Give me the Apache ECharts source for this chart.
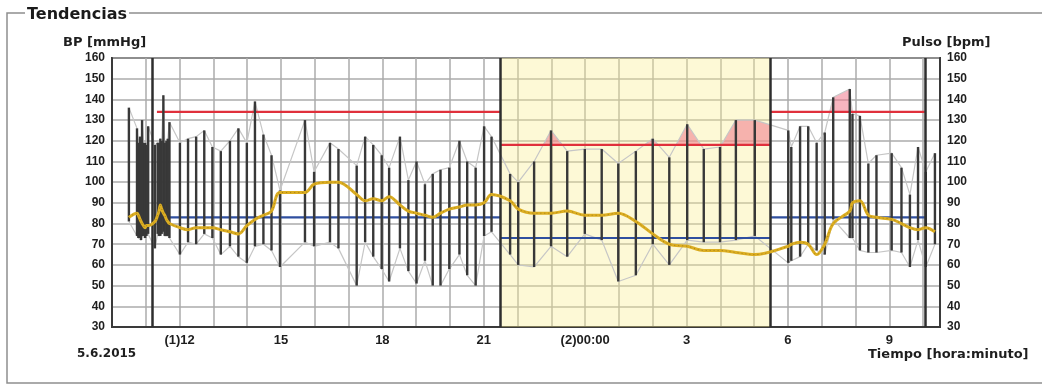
<!DOCTYPE html>
<html>
<head>
<meta charset="utf-8">
<title>Tendencias</title>
<script src="https://cdn.jsdelivr.net/npm/echarts@6/dist/echarts.min.js"></script>
<style>
  html, body { margin: 0; padding: 0; background: #ffffff; }
  #main { width: 1042px; height: 385px; }
</style>
</head>
<body>
<div id="main"></div>
<script>
// hours after 10:00 on 5.6.2015
var tHours = [0.50, 0.74, 0.78, 0.83, 0.86, 0.89, 0.93, 0.98, 1.02, 1.07,
  1.27, 1.35, 1.39, 1.43, 1.47, 1.52, 1.56, 1.61, 1.65, 1.70,
  2.01, 2.25, 2.49, 2.73, 2.97, 3.22, 3.49, 3.74, 3.99, 4.23, 4.48, 4.72, 4.97,
  5.71, 5.98, 6.45, 6.70, 7.24, 7.49, 7.73, 7.98, 8.20, 8.52, 8.77, 9.01, 9.26,
  9.49, 9.72, 9.98, 10.28, 10.51, 10.76, 11.01, 11.23,
  11.78, 12.02, 12.49, 12.99, 13.47, 13.99, 14.49, 14.98, 15.50, 16.00, 16.49,
  17.02, 17.51, 17.99, 18.46, 19.02,
  20.01, 20.10, 20.36, 20.60, 20.85, 21.09, 21.34, 21.83, 21.91, 22.13, 22.38,
  22.62, 23.07, 23.36, 23.61, 23.85, 24.08, 24.35];
var sysBP = [136, 126, 119, 122, 118, 130, 119, 119, 118, 127,
  118, 119, 119, 121, 120, 142, 119, 120, 121, 129,
  119, 121, 122, 125, 117, 115, 120, 126, 119, 139, 123, 113, 96,
  130, 105, 119, 116, 108, 122, 118, 113, 107, 122, 101, 110, 99,
  104, 106, 107, 120, 110, 107, 127, 122,
  104, 100, 110, 125, 115, 116, 116, 109, 115, 121, 112,
  128, 116, 117, 130, 130,
  125, 117, 127, 127, 119, 124, 141, 145, 133, 132, 109,
  113, 114, 107, 94, 117, 105, 114];
var diaBP = [81, 74, 73, 73, 72, 74, 74, 73, 74, 75,
  68, 75, 74, 74, 75, 76, 74, 74, 74, 73,
  65, 71, 70, 75, 73, 65, 69, 64, 61, 69, 70, 67, 59,
  71, 69, 71, 68, 50, 71, 64, 58, 52, 68, 57, 51, 62,
  50, 50, 58, 65, 55, 50, 74, 76,
  65, 60, 59, 69, 64, 75, 72, 52, 55, 70, 60,
  72, 71, 71, 72, 74,
  61, 62, 64, 70, 67, 65, 82, 73, 73, 67, 66,
  66, 67, 66, 59, 72, 59, 70];
var pulse = [83, 85, 84, 82, 81, 80, 79, 78, 79, 79,
  81, 84, 86, 89, 87, 85, 84, 82, 81, 80,
  78, 77, 78, 78, 78, 77, 76, 75, 79, 82, 84, 86, 95,
  95, 99, 100, 100, 94, 91, 92, 91, 93, 89, 86, 85, 84,
  83, 85, 87, 88, 89, 89, 90, 94,
  91, 87, 85, 85, 86, 84, 84, 85, 81, 75, 70,
  69, 67, 67, 66, 65,
  69, 70, 71, 70, 65, 70, 80, 86, 90, 91, 84,
  83, 82, 80, 78, 77, 78, 76];

// limit periods (day / night / day)
var periodStart = [1.33, 11.48, 19.47];
var periodEnd = [11.48, 19.47, 24.05];
var sysLimit = [134, 118, 134];
var diaLimit = [83, 73, 83];

var markerHours = [1.19, 11.48, 19.47, 24.05];
var nightBand = [11.48, 19.47];

var tickHours = [2, 5, 8, 11, 14, 17, 20, 23];
var tickLabels = ['(1)12', '15', '18', '21', '(2)00:00', '3', '6', '9'];

var FONT = '"DejaVu Sans", Verdana, sans-serif';
var AXIS_FONT = '"Liberation Sans", Arial, sans-serif';

// systolic envelope above the limit, as a polygon in data space
function excessPolygon(p) {
  var s = periodStart[p], e = periodEnd[p], thr = sysLimit[p];
  function at(t) {
    for (var i = 0; i < tHours.length - 1; i++) {
      if (t >= tHours[i] && t <= tHours[i + 1]) {
        var f = (t - tHours[i]) / (tHours[i + 1] - tHours[i]);
        return sysBP[i] + f * (sysBP[i + 1] - sysBP[i]);
      }
    }
    return t < tHours[0] ? sysBP[0] : sysBP[sysBP.length - 1];
  }
  var pts = [[s, at(s)]];
  tHours.forEach(function (t, i) {
    if (t > s && t < e) pts.push([t, sysBP[i]]);
  });
  pts.push([e, at(e)]);
  var out = [[s, thr]];
  for (var k = 0; k < pts.length; k++) {
    if (k > 0) {
      var a = pts[k - 1], b = pts[k];
      if ((a[1] - thr) * (b[1] - thr) < 0) {
        out.push([a[0] + (thr - a[1]) / (b[1] - a[1]) * (b[0] - a[0]), thr]);
      }
    }
    out.push([pts[k][0], Math.max(pts[k][1], thr)]);
  }
  out.push([e, thr]);
  return out;
}

function initChart(dom) {
  var chart = echarts.init(dom, null, { width: 1042, height: 385 });

  var bars = tHours.map(function (t, i) { return [t, diaBP[i], sysBP[i]]; });
  var sysLine = tHours.map(function (t, i) { return [t, sysBP[i]]; });
  var diaLine = tHours.map(function (t, i) { return [t, diaBP[i]]; });
  var pulseLine = tHours.map(function (t, i) { return [t, pulse[i]]; });
  var limits = periodStart.map(function (s, i) { return [s, periodEnd[i], sysLimit[i], diaLimit[i]]; });
  var excess = periodStart.map(function (s, i) { return [s, sysLimit[i], i]; });

  var yAxisBase = {
    type: 'value', min: 30, max: 160, interval: 10,
    axisLine: { show: true, lineStyle: { color: '#3a3a3a', width: 2 } },
    axisTick: { show: false },
    axisLabel: { fontFamily: AXIS_FONT, fontWeight: 'bold', fontSize: 12, color: '#1e1e1e', margin: 7 },
    splitLine: { show: true, lineStyle: { color: '#ababab', width: 1.5 } }
  };

  var option = {
    backgroundColor: '#ffffff',
    animation: false,
    grid: { left: 112, right: 102, top: 58, bottom: 58, show: true, borderColor: '#3a3a3a', borderWidth: 2 },
    xAxis: {
      type: 'value', min: 0, max: 24.5, interval: 1,
      axisLine: { show: true, onZero: false, lineStyle: { color: '#3a3a3a', width: 2 } },
      axisTick: { show: false },
      axisLabel: {
        fontFamily: AXIS_FONT, fontWeight: 'bold', fontSize: 13, color: '#1e1e1e', margin: 7,
        showMaxLabel: false,
        formatter: function (v) {
          var k = tickHours.indexOf(Math.round(v));
          return (k >= 0 && Math.abs(v - tickHours[k]) < 0.01) ? tickLabels[k] : '';
        }
      },
      splitLine: { show: true, lineStyle: { color: '#ababab', width: 1.5 } }
    },
    yAxis: [
      Object.assign({}, yAxisBase, { position: 'left' }),
      Object.assign({}, yAxisBase, { position: 'right', splitLine: { show: false } })
    ],
    graphic: [
      { type: 'rect', shape: { x: 7, y: 13, width: 1060, height: 370 }, style: { fill: 'none', stroke: '#8e8e8e', lineWidth: 1.5 }, silent: true },
      { type: 'text', x: 25, y: 15, style: { text: 'Tendencias', font: 'bold 16px ' + FONT, fill: '#1a1a1a', verticalAlign: 'middle', backgroundColor: '#ffffff', padding: [0, 2] } },
      { type: 'text', x: 63, y: 43, style: { text: 'BP [mmHg]', font: 'bold 13px ' + FONT, fill: '#1e1e1e', verticalAlign: 'middle' } },
      { type: 'text', x: 902, y: 43, style: { text: 'Pulso [bpm]', font: 'bold 13px ' + FONT, fill: '#1e1e1e', verticalAlign: 'middle' } },
      { type: 'text', x: 77, y: 354, style: { text: '5.6.2015', font: 'bold 12px ' + FONT, fill: '#1e1e1e', verticalAlign: 'middle' } },
      { type: 'text', x: 868, y: 355, style: { text: 'Tiempo [hora:minuto]', font: 'bold 13px ' + FONT, fill: '#1e1e1e', verticalAlign: 'middle' } }
    ],
    series: [
      // systolic envelope + night band
      {
        type: 'line', data: sysLine, z: 2, showSymbol: false, silent: true,
        lineStyle: { color: '#c6c6c6', width: 1.2 },
        markArea: {
          silent: true,
          itemStyle: { color: 'rgba(250,238,140,0.36)' },
          data: [[{ xAxis: nightBand[0] }, { xAxis: nightBand[1] }]]
        }
      },
      { type: 'line', data: diaLine, z: 2, showSymbol: false, silent: true, lineStyle: { color: '#c6c6c6', width: 1.2 } },
      // pink: systolic above limit
      {
        type: 'custom', data: excess, z: 2, silent: true,
        renderItem: function (params, api) {
          var poly = excessPolygon(api.value(2)).map(function (p) { return api.coord(p); });
          return { type: 'polygon', shape: { points: poly }, style: { fill: 'rgba(240,120,140,0.55)' } };
        }
      },
      // limit lines
      {
        type: 'custom', data: limits, z: 3, silent: true, encode: { x: [0, 1], y: [2, 3] },
        renderItem: function (params, api) {
          var a = api.coord([api.value(0), api.value(2)]), b = api.coord([api.value(1), api.value(2)]);
          var c = api.coord([api.value(0), api.value(3)]), d = api.coord([api.value(1), api.value(3)]);
          return {
            type: 'group', children: [
              { type: 'line', shape: { x1: a[0], y1: a[1], x2: b[0], y2: b[1] }, style: { stroke: '#e0303c', lineWidth: 2.2 } },
              { type: 'line', shape: { x1: c[0], y1: c[1], x2: d[0], y2: d[1] }, style: { stroke: '#2f4f9f', lineWidth: 2.2 } }
            ]
          };
        }
      },
      // BP bars dia..sys
      {
        type: 'custom', data: bars, z: 4, silent: true, encode: { x: 0, y: [1, 2] },
        renderItem: function (params, api) {
          var lo = api.coord([api.value(0), api.value(1)]);
          var hi = api.coord([api.value(0), api.value(2)]);
          return { type: 'line', shape: { x1: lo[0], y1: lo[1], x2: hi[0], y2: hi[1] }, style: { stroke: '#383838', lineWidth: 2.4 } };
        }
      },
      // pulse
      {
        type: 'line', yAxisIndex: 1, data: pulseLine, z: 5, smooth: 0.35, showSymbol: false, silent: true,
        lineStyle: { color: '#dcae22', width: 3 }
      },
      {
        type: 'line', yAxisIndex: 1, data: pulseLine, z: 6, smooth: 0.35, showSymbol: false, silent: true,
        lineStyle: { color: '#8d6c12', width: 1, type: [1, 3], opacity: 0.7 },
        markLine: {
          silent: true, symbol: 'none', label: { show: false },
          lineStyle: { color: '#2e2e2e', width: 2.5, type: 'solid', opacity: 1 },
          data: markerHours.map(function (h) { return { xAxis: h }; })
        }
      }
    ]
  };

  chart.setOption(option);
  return chart;
}

initChart(document.getElementById('main'));
</script>
</body>
</html>
